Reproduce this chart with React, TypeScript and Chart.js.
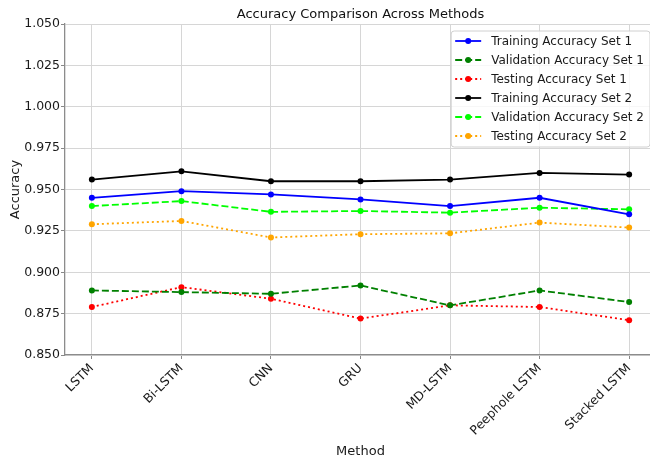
import { useEffect, useRef } from "react";
import { Chart, registerables } from "chart.js";

Chart.register(...registerables);

const methods = ["LSTM", "Bi-LSTM", "CNN", "GRU", "MD-LSTM", "Peephole LSTM", "Stacked LSTM"];
const trainingSet1 = [0.945, 0.949, 0.947, 0.944, 0.940, 0.945, 0.935];
const validationSet1 = [0.889, 0.888, 0.887, 0.892, 0.880, 0.889, 0.882];
const testingSet1 = [0.879, 0.891, 0.884, 0.872, 0.880, 0.879, 0.871];
const trainingSet2 = [0.956, 0.961, 0.955, 0.955, 0.956, 0.960, 0.959];
const validationSet2 = [0.940, 0.943, 0.9365, 0.937, 0.936, 0.939, 0.938];
const testingSet2 = [0.929, 0.931, 0.921, 0.923, 0.9235, 0.930, 0.927];
const yTicks = [0.85, 0.875, 0.9, 0.925, 0.95, 0.975, 1.0, 1.025, 1.05];

const FONT = "'DejaVu Sans', sans-serif";

const seriesSpecs = [
  { label: "Training Accuracy Set 1", values: trainingSet1, color: "#0000ff", dash: [] as number[] },
  { label: "Validation Accuracy Set 1", values: validationSet1, color: "#008000", dash: [7, 3] },
  { label: "Testing Accuracy Set 1", values: testingSet1, color: "#ff0000", dash: [2, 3] },
  { label: "Training Accuracy Set 2", values: trainingSet2, color: "#000000", dash: [] as number[] },
  { label: "Validation Accuracy Set 2", values: validationSet2, color: "#00ff00", dash: [7, 3] },
  { label: "Testing Accuracy Set 2", values: testingSet2, color: "#ffa500", dash: [2, 3] },
];

const legendPlugin = {
  id: "mplLegend",
  afterDraw(chart: any) {
    const { ctx, chartArea } = chart;
    ctx.save();
    ctx.font = `12px ${FONT}`;
    const datasets = chart.data.datasets;
    const texts: string[] = datasets.map((d: any) => d.label);
    const maxW = Math.max(...texts.map((t) => ctx.measureText(t).width));
    const padL = 4, handle = 26, gap = 10, padR = 6, rowH = 19;
    const width = padL + handle + gap + maxW + padR;
    const height = rowH * texts.length + 2;
    const right = chartArea.right - 6;
    const top = chartArea.top + 7;
    const left = right - width;
    ctx.beginPath();
    ctx.roundRect(left, top, width, height, 3);
    ctx.fillStyle = "rgba(255,255,255,0.8)";
    ctx.fill();
    ctx.lineWidth = 1;
    ctx.strokeStyle = "#d0d0d0";
    ctx.stroke();
    datasets.forEach((d: any, i: number) => {
      const cy = top + 10 + i * rowH;
      const x0 = left + padL;
      ctx.save();
      ctx.beginPath();
      ctx.setLineDash(d.borderDash || []);
      ctx.lineWidth = d.borderWidth;
      ctx.strokeStyle = d.borderColor;
      ctx.moveTo(x0, cy);
      ctx.lineTo(x0 + handle, cy);
      ctx.stroke();
      ctx.setLineDash([]);
      ctx.beginPath();
      ctx.fillStyle = d.borderColor;
      ctx.arc(x0 + handle / 2, cy, 3, 0, Math.PI * 2);
      ctx.fill();
      ctx.restore();
      ctx.fillStyle = "#1a1a1a";
      ctx.textBaseline = "middle";
      ctx.textAlign = "left";
      ctx.fillText(texts[i], x0 + handle + gap, cy + 1);
    });
    ctx.restore();
  },
};

export default function App() {
  const canvasRef = useRef<HTMLCanvasElement | null>(null);

  useEffect(() => {
    if (!canvasRef.current) return;
    Chart.defaults.font.family = FONT;
    const chart = new Chart(canvasRef.current, {
      type: "line",
      data: {
        datasets: seriesSpecs.map((s) => ({
          label: s.label,
          data: s.values.map((v, i) => ({ x: i, y: v })),
          borderColor: s.color,
          backgroundColor: s.color,
          borderDash: s.dash,
          borderWidth: 1.8,
          pointRadius: 3,
          pointBorderWidth: 0,
          pointBackgroundColor: s.color,
          tension: 0,
          fill: false,
        })),
      },
      options: {
        responsive: false,
        animation: false,
        devicePixelRatio: 1,
        layout: { padding: { left: 0, right: 2, top: 0, bottom: 0 } },
        plugins: {
          legend: { display: false },
          tooltip: { enabled: false },
          title: {
            display: true,
            text: "Accuracy Comparison Across Methods",
            color: "#111",
            font: { size: 13, family: FONT, weight: "normal" },
            padding: { top: 7, bottom: 1.4 },
            fullSize: false,
          },
        },
        scales: {
          x: {
            type: "linear",
            min: -0.3,
            max: 6.3,
            afterBuildTicks: (axis: any) => {
              axis.ticks = methods.map((_, i) => ({ value: i }));
            },
            afterFit: (axis: any) => {
              axis.height = 104;
            },
            ticks: {
              autoSkip: false,
              maxRotation: 45,
              minRotation: 45,
              padding: 2,
              color: "#1a1a1a",
              font: { size: 12.5, family: FONT },
              callback: (v: any) => methods[Math.round(Number(v))] ?? "",
            },
            grid: { color: "#d6d6d6", tickColor: "#888", tickLength: 4, lineWidth: 1 },
            border: { color: "#8c8c8c", width: 1.3 },
            title: {
              display: true,
              text: "Method",
              color: "#1a1a1a",
              font: { size: 13, family: FONT },
              padding: { top: 0, bottom: 0 },
            },
          },
          y: {
            type: "linear",
            min: 0.85,
            max: 1.05,
            afterBuildTicks: (axis: any) => {
              axis.ticks = yTicks.map((v) => ({ value: v }));
            },
            afterFit: (axis: any) => {
              axis.width = 65;
            },
            ticks: {
              padding: 1,
              color: "#1a1a1a",
              font: { size: 12.5, family: FONT },
              callback: (v: any) => Number(v).toFixed(3),
            },
            grid: { color: "#d6d6d6", tickColor: "#888", tickLength: 4, lineWidth: 1 },
            border: { color: "#8c8c8c", width: 1.3 },
            title: {
              display: true,
              text: "Accuracy",
              color: "#1a1a1a",
              font: { size: 13, family: FONT },
              padding: { top: 8, bottom: 0 },
            },
          },
        },
      },
      plugins: [legendPlugin],
    } as any);
    return () => chart.destroy();
  }, []);

  return (
    <div
      style={{
        position: "fixed",
        left: 0,
        top: 0,
        width: 650,
        height: 459,
        overflow: "hidden",
        background: "#fff",
      }}
    >
      <canvas ref={canvasRef} width={660} height={459} style={{ display: "block", width: 660, height: 459 }} />
    </div>
  );
}
